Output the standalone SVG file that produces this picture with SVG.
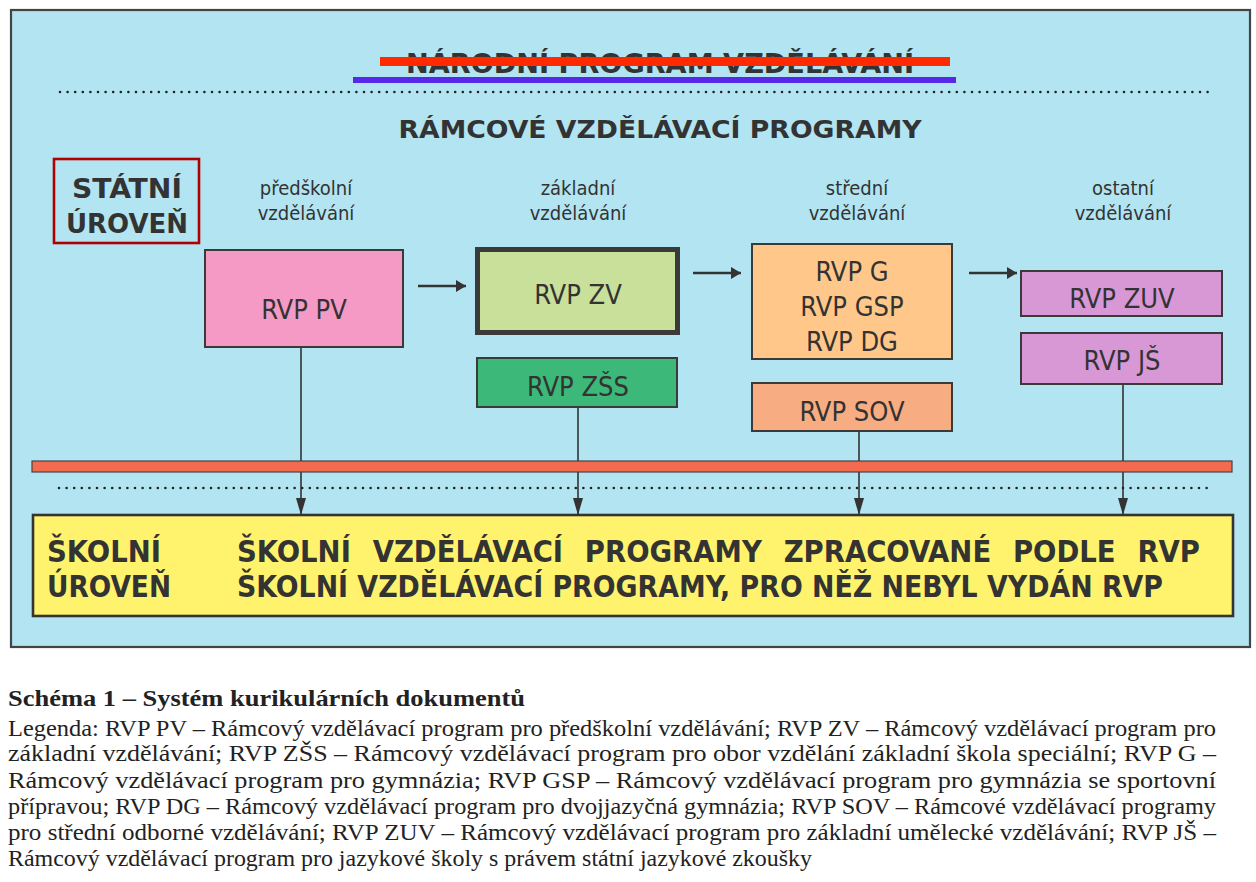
<svg xmlns="http://www.w3.org/2000/svg" width="1256" height="882" viewBox="0 0 1256 882">
<style>
.sans{font-family:"DejaVu Sans Condensed","DejaVu Sans",sans-serif;font-stretch:condensed;fill:#333}
.bold{font-weight:bold}
.node{stroke:#3a3a3a;stroke-width:2}
.lbl{font-size:27px;text-anchor:middle}
.col{font-size:20px;text-anchor:middle}
.serif{font-family:"Liberation Serif","Times New Roman",serif;fill:#222;font-size:23.5px}
.dots{stroke:#222;stroke-width:2.6;stroke-linecap:round;stroke-dasharray:0 7.6;fill:none}
.conn{stroke:#333;stroke-width:1.6;fill:none}
.harr{stroke:#333;stroke-width:2.6;fill:none}
</style>
<defs>
<marker id="ah" markerWidth="10" markerHeight="16" refX="10" refY="8" orient="auto" markerUnits="userSpaceOnUse">
<path d="M0,2 L10,8 L0,14 Z" fill="#333"/>
</marker>
<marker id="ahv" markerWidth="18" markerHeight="12" refX="17" refY="6" orient="auto" markerUnits="userSpaceOnUse">
<path d="M0,1 L17,6 L0,11 Z" fill="#333"/>
</marker>
</defs>
<rect width="1256" height="882" fill="#ffffff"/>
<g id="frame">
<rect x="11" y="10" width="1239" height="637" fill="#b2e4f2" stroke="#444" stroke-width="2.2"/>
</g>
<g id="title">
<text class="sans bold" x="660" y="73" font-size="27" text-anchor="middle" textLength="508" lengthAdjust="spacingAndGlyphs">NÁRODNÍ PROGRAM VZDĚLÁVÁNÍ</text>
<rect x="380" y="57" width="570" height="9" fill="#ff2a00"/>
<rect x="353" y="77" width="603" height="6" fill="#5528ea"/>
<line class="dots" x1="60" y1="92" x2="1208" y2="92"/>
<text class="sans bold" x="660" y="138" font-size="25" text-anchor="middle" textLength="523" lengthAdjust="spacingAndGlyphs">RÁMCOVÉ VZDĚLÁVACÍ PROGRAMY</text>
</g>
<g id="statni">
<rect x="54" y="159" width="145" height="84" fill="none" stroke="#b00000" stroke-width="2.6"/>
<text class="sans bold" x="127" y="198" font-size="26" text-anchor="middle" textLength="110" lengthAdjust="spacingAndGlyphs">STÁTNÍ</text>
<text class="sans bold" x="127" y="233" font-size="26" text-anchor="middle" textLength="122" lengthAdjust="spacingAndGlyphs">ÚROVEŇ</text>
</g>
<g id="columns">
<text class="sans col" x="306" y="195">předškolní</text>
<text class="sans col" x="306" y="220">vzdělávání</text>
<text class="sans col" x="578" y="195">základní</text>
<text class="sans col" x="578" y="220">vzdělávání</text>
<text class="sans col" x="857" y="195">střední</text>
<text class="sans col" x="857" y="220">vzdělávání</text>
<text class="sans col" x="1123" y="195">ostatní</text>
<text class="sans col" x="1123" y="220">vzdělávání</text>
</g>
<g id="connectors">
<line class="harr" x1="418" y1="286" x2="466" y2="286" marker-end="url(#ah)"/>
<line class="harr" x1="693" y1="273" x2="741" y2="273" marker-end="url(#ah)"/>
<line class="harr" x1="969" y1="273" x2="1017" y2="273" marker-end="url(#ah)"/>
<line class="conn" x1="301" y1="347" x2="301" y2="515" marker-end="url(#ahv)"/>
<line class="conn" x1="578" y1="407" x2="578" y2="515" marker-end="url(#ahv)"/>
<line class="conn" x1="859" y1="431" x2="859" y2="515" marker-end="url(#ahv)"/>
<line class="conn" x1="1123" y1="384" x2="1123" y2="515" marker-end="url(#ahv)"/>
</g>
<g id="rvp-pv">
<rect class="node" x="205" y="250" width="198" height="97" fill="#f59ac5"/>
<text class="sans lbl" x="304" y="319">RVP PV</text>
</g>
<g id="rvp-zv">
<rect x="477.5" y="249.5" width="200" height="83" fill="#c8e09a" stroke="#3a3a3a" stroke-width="5"/>
<text class="sans lbl" x="578" y="304">RVP ZV</text>
</g>
<g id="rvp-g">
<rect class="node" x="752" y="244" width="200" height="115" fill="#ffc88a"/>
<text class="sans lbl" x="852" y="281">RVP G</text>
<text class="sans lbl" x="852" y="316">RVP GSP</text>
<text class="sans lbl" x="852" y="351">RVP DG</text>
</g>
<g id="rvp-zuv">
<rect class="node" x="1021" y="271" width="201" height="45" fill="#d898d6"/>
<text class="sans lbl" x="1122" y="308">RVP ZUV</text>
</g>
<g id="rvp-js">
<rect class="node" x="1021" y="333" width="201" height="51" fill="#d898d6"/>
<text class="sans lbl" x="1122" y="370">RVP JŠ</text>
</g>
<g id="rvp-zss">
<rect class="node" x="477" y="358" width="200" height="49" fill="#3cb878"/>
<text class="sans lbl" x="578" y="396">RVP ZŠS</text>
</g>
<g id="rvp-sov">
<rect class="node" x="752" y="383" width="200" height="48" fill="#f8ac82"/>
<text class="sans lbl" x="852" y="421">RVP SOV</text>
</g>
<g id="divider">
<rect x="32" y="461" width="1200" height="11" fill="#f26b50" stroke="#444" stroke-width="1.2"/>
<line class="dots" x1="59" y1="488" x2="1207" y2="488"/>
</g>
<g id="skolni">
<rect x="33" y="515" width="1200" height="101" fill="#fff36e" stroke="#333" stroke-width="2.6"/>
<text class="sans bold" x="47" y="562" font-size="30" textLength="114" lengthAdjust="spacingAndGlyphs">ŠKOLNÍ</text>
<text class="sans bold" x="47" y="597" font-size="30" textLength="124" lengthAdjust="spacingAndGlyphs">ÚROVEŇ</text>
<text class="sans bold" x="237" y="562" font-size="30" textLength="963" lengthAdjust="spacingAndGlyphs" word-spacing="12">ŠKOLNÍ VZDĚLÁVACÍ PROGRAMY ZPRACOVANÉ PODLE RVP</text>
<text class="sans bold" x="237" y="597" font-size="30" textLength="926" lengthAdjust="spacingAndGlyphs">ŠKOLNÍ VZDĚLÁVACÍ PROGRAMY, PRO NĚŽ NEBYL VYDÁN RVP</text>
</g>
<g id="caption">
<text class="serif" x="8" y="706" font-weight="bold" font-size="24" textLength="517" lengthAdjust="spacingAndGlyphs">Schéma 1 – Systém kurikulárních dokumentů</text>
<text class="serif" x="8" y="736" textLength="1208" lengthAdjust="spacingAndGlyphs">Legenda: RVP PV – Rámcový vzdělávací program pro předškolní vzdělávání; RVP ZV – Rámcový vzdělávací program pro</text>
<text class="serif" x="8" y="761" textLength="1208" lengthAdjust="spacingAndGlyphs">základní vzdělávání; RVP ZŠS – Rámcový vzdělávací program pro obor vzdělání základní škola speciální; RVP G –</text>
<text class="serif" x="8" y="788" textLength="1208" lengthAdjust="spacingAndGlyphs">Rámcový vzdělávací program pro gymnázia; RVP GSP – Rámcový vzdělávací program pro gymnázia se sportovní</text>
<text class="serif" x="8" y="814" textLength="1208" lengthAdjust="spacingAndGlyphs">přípravou; RVP DG – Rámcový vzdělávací program pro dvojjazyčná gymnázia; RVP SOV – Rámcové vzdělávací programy</text>
<text class="serif" x="8" y="840" textLength="1208" lengthAdjust="spacingAndGlyphs">pro střední odborné vzdělávání; RVP ZUV – Rámcový vzdělávací program pro základní umělecké vzdělávání; RVP JŠ –</text>
<text class="serif" x="8" y="866" textLength="804" lengthAdjust="spacingAndGlyphs">Rámcový vzdělávací program pro jazykové školy s právem státní jazykové zkoušky</text>
</g>
</svg>
